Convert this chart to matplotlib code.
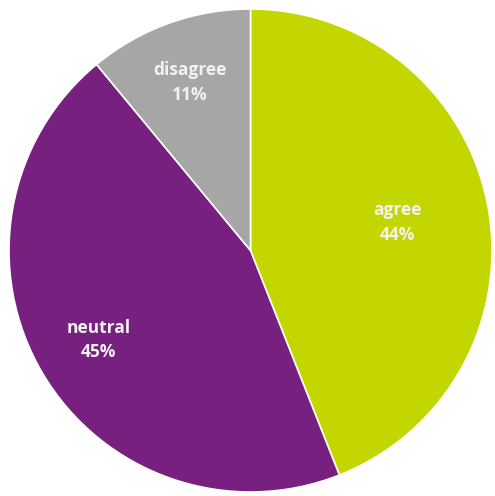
import numpy as np
import matplotlib.pyplot as plt

# survey answers
labels = ['agree', 'neutral', 'disagree']
shares = [44, 45, 11]
colors = ['#C4D600', '#77207F', '#A6A6A6']

fig = plt.figure(figsize=(4.95, 4.96), dpi=100)
ax = fig.add_axes([0, 0, 1, 1])

radius = 241.5
wedges, _ = ax.pie(shares, colors=colors, startangle=90, counterclock=False,
                   radius=radius, center=(250.5, 245.5),
                   wedgeprops=dict(edgecolor='white', linewidth=1.2))

# label distance (fraction of radius) per slice, like Excel's best fit
label_dist = [0.62, 0.73, 0.74]
for w, lab, val, d in zip(wedges, labels, shares, label_dist):
    mid = np.deg2rad((w.theta1 + w.theta2) / 2)
    x = w.center[0] + d * w.r * np.cos(mid)
    y = w.center[1] + d * w.r * np.sin(mid)
    ax.text(x, y, f'{lab}\n{val}%', ha='center', va='center', color='#F2F2F2',
            fontsize=12.5, fontweight='bold', family='Open Sans', linespacing=1.45)

ax.set_xlim(0, 495)
ax.set_ylim(0, 496)
ax.set_aspect('equal')
ax.axis('off')

fig.savefig('out.png', dpi=100)
